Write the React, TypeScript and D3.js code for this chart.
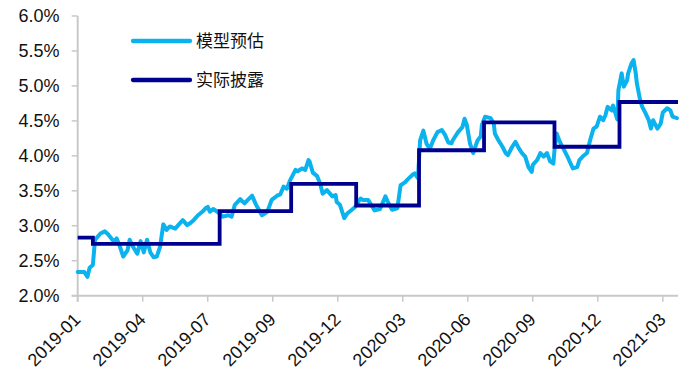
import * as d3 from "d3";

// trading-day index of each x tick label
const tickLabels = [
  "2019-01",
  "2019-04",
  "2019-07",
  "2019-09",
  "2019-12",
  "2020-03",
  "2020-06",
  "2020-09",
  "2020-12",
  "2021-03",
];
const tickIdx = [0, 60, 120, 180, 240, 300, 360, 420, 480, 540];
const yTicks = [2.0, 2.5, 3.0, 3.5, 4.0, 4.5, 5.0, 5.5, 6.0];

// 模型预估: trading-day index and value (%)
const modelIdx = [
  0, 6, 9, 11, 14, 16, 21, 25, 28, 32, 34, 36, 39, 42, 46, 48, 51, 55, 58, 61,
  64, 67, 70, 73, 76, 79, 82, 85, 90, 94, 97, 101, 104, 107, 111, 115, 118, 120, 122, 125,
  129, 131, 134, 139, 142, 145, 150, 154, 157, 161, 164, 166, 170, 175, 179, 184, 187, 190, 193, 196,
  201, 203, 207, 210, 213, 214, 217, 221, 224, 226, 230, 235, 238, 239, 242, 246, 249, 253, 256, 261,
  263, 268, 272, 274, 279, 284, 286, 290, 295, 298, 302, 305, 309, 311, 314, 316, 319, 322, 325, 328,
  332, 336, 339, 342, 345, 346, 351, 355, 357, 359, 362, 365, 369, 372, 373, 376, 381, 384, 385, 388,
  392, 395, 397, 401, 404, 407, 410, 413, 416, 419, 420, 424, 427, 430, 433, 436, 439, 440, 442, 445,
  448, 452, 454, 457, 461, 463, 466, 470, 473, 476, 479, 482, 485, 487, 489, 493, 494, 498, 499, 502,
  504, 507, 508, 511, 513, 515, 516, 519, 521, 524, 527, 529, 531, 535, 538, 540, 544, 547, 549, 553,
];
const modelVal = [
  2.34, 2.34, 2.27, 2.4, 2.44, 2.8, 2.89, 2.92, 2.88, 2.8, 2.77, 2.82, 2.7, 2.56, 2.65, 2.8, 2.7, 2.6, 2.78, 2.62,
  2.8, 2.62, 2.55, 2.56, 2.7, 3.02, 2.94, 2.99, 2.96, 3.03, 3.08, 3.01, 3.04, 3.08, 3.15, 3.2, 3.25, 3.27, 3.2, 3.24,
  3.2, 3.17, 3.13, 3.15, 3.13, 3.3, 3.38, 3.32, 3.37, 3.43, 3.32, 3.26, 3.15, 3.2, 3.37, 3.43, 3.45, 3.56, 3.53, 3.65,
  3.8, 3.78, 3.82, 3.8, 3.94, 3.92, 3.76, 3.71, 3.59, 3.46, 3.51, 3.42, 3.44, 3.34, 3.3, 3.11, 3.18, 3.23, 3.27, 3.39,
  3.37, 3.37, 3.27, 3.22, 3.24, 3.42, 3.35, 3.23, 3.25, 3.58, 3.62, 3.67, 3.73, 3.75, 3.68, 4.22, 4.36, 4.17, 4.1, 4.22,
  4.34, 4.37, 4.3, 4.19, 4.18, 4.22, 4.34, 4.41, 4.53, 4.45, 4.18, 4.04, 4.22, 4.28, 4.44, 4.56, 4.54, 4.46, 4.32, 4.23,
  4.13, 4.04, 4.01, 4.13, 4.2, 4.11, 4.04, 3.99, 3.84, 3.77, 3.87, 3.94, 4.04, 3.99, 4.04, 3.92, 3.89, 4.08, 4.32, 4.2,
  4.11, 3.99, 3.92, 3.82, 3.84, 3.94, 3.99, 4.04, 4.23, 4.39, 4.42, 4.56, 4.51, 4.58, 4.7, 4.65, 4.72, 4.52, 4.94, 5.18,
  4.99, 5.08, 5.18, 5.32, 5.37, 5.18, 5.04, 4.8, 4.7, 4.61, 4.51, 4.39, 4.51, 4.39, 4.46, 4.62, 4.68, 4.65, 4.56, 4.54,
];

// 实际披露: value holds from each index until the next
const disclosedIdx = [0, 14, 131, 197, 257, 315, 375, 440, 500, 554];
const disclosedVal = [2.83, 2.74, 3.21, 3.6, 3.29, 4.08, 4.48, 4.13, 4.77, 4.77];

const lightBlue = "#0AB2EE";
const navy = "#00008F";
const axisGray = "#C9C9C9";

export default function App() {
  const width = 690;
  const height = 387;
  const xScale = d3.scaleLinear().domain([0, 554]).range([77.7, 678]);
  const yScale = d3.scaleLinear().domain([2, 6]).range([295.7, 16]);

  const modelData: [number, number][] = modelIdx.map((d, i) => [d, modelVal[i]]);
  const disclosedData: [number, number][] = disclosedIdx.map((d, i) => [d, disclosedVal[i]]);

  const modelLine = d3
    .line<[number, number]>()
    .x((d) => xScale(d[0]))
    .y((d) => yScale(d[1]));
  const stepLine = d3
    .line<[number, number]>()
    .x((d) => xScale(d[0]))
    .y((d) => yScale(d[1]))
    .curve(d3.curveStepAfter);

  const x0 = xScale(0);
  const y0 = yScale(2);

  return (
    <svg
      width={width}
      height={height}
      viewBox={`0 0 ${width} ${height}`}
      style={{ position: "absolute", left: 0, top: 0, background: "#fff" }}
      fontFamily="'Liberation Sans', Arial, sans-serif"
    >
      {/* y axis */}
      <line x1={x0} x2={x0} y1={yScale(6)} y2={y0 + 6} stroke={axisGray} strokeWidth={2} />
      {yTicks.map((t) => (
        <g key={t}>
          <line x1={x0 - 6} x2={x0} y1={yScale(t)} y2={yScale(t)} stroke={axisGray} strokeWidth={1.5} />
          <text x={59.5} y={yScale(t)} dy="0.35em" textAnchor="end" fontSize={18} fill="#111">
            {t.toFixed(1) + "%"}
          </text>
        </g>
      ))}

      {/* x axis */}
      <line x1={x0 - 6} x2={xScale(554)} y1={y0} y2={y0} stroke={axisGray} strokeWidth={2} />
      {tickIdx.map((d, i) => (
        <g key={d}>
          <line x1={xScale(d)} x2={xScale(d)} y1={y0} y2={y0 + 6} stroke={axisGray} strokeWidth={1.5} />
          <text
            transform={`translate(${xScale(d) + 4},${y0 + 25}) rotate(-45)`}
            textAnchor="end"
            fontSize={18}
            fill="#111"
          >
            {tickLabels[i]}
          </text>
        </g>
      ))}

      {/* series */}
      <path
        d={modelLine(modelData) ?? ""}
        fill="none"
        stroke={lightBlue}
        strokeWidth={4}
        strokeLinejoin="round"
        strokeLinecap="round"
      />
      <path d={stepLine(disclosedData) ?? ""} fill="none" stroke={navy} strokeWidth={3.8} />

      {/* legend */}
      <line x1={133} x2={190} y1={41} y2={41} stroke={lightBlue} strokeWidth={4.3} strokeLinecap="round" />
      <text x={196} y={41} dy="0.36em" fontSize={17} fontFamily="'Noto Sans CJK SC', sans-serif" fill="#111">
        模型预估
      </text>
      <line x1={133} x2={190} y1={80} y2={80} stroke={navy} strokeWidth={4.3} strokeLinecap="round" />
      <text x={196} y={80} dy="0.36em" fontSize={17} fontFamily="'Noto Sans CJK SC', sans-serif" fill="#111">
        实际披露
      </text>
    </svg>
  );
}
